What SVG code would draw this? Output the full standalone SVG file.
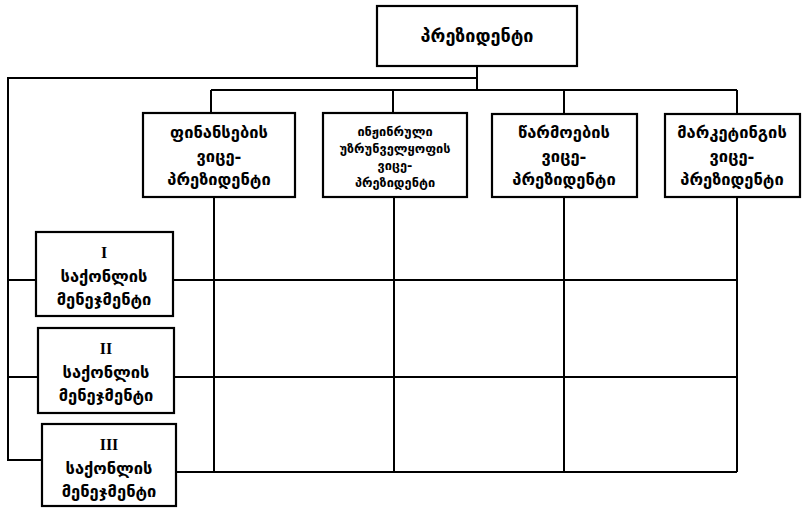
<svg xmlns="http://www.w3.org/2000/svg" width="808" height="508" viewBox="0 0 808 508">
<style>
.box{fill:#fff;stroke:#000;stroke-width:2.2}
.ln{fill:none;stroke:#000;stroke-width:2}
.t{font-family:"DejaVu Sans","Noto Sans",sans-serif;font-weight:bold;font-size:16.5px;fill:#000;text-anchor:middle}
.s{font-size:12.8px}
.p{font-size:18px}
.r{font-family:"Liberation Serif","DejaVu Serif",serif;font-weight:bold;font-size:16px}
</style>
<rect width="808" height="508" fill="#fff"/>
<g id="connectors">
<path class="ln" d="M477 66V90M211 90H737M211 90V113M393 90V113M564 90V114M737 90V114"/>
<path class="ln" d="M214 197V472M394 197V472M564 197V472M737 197V472"/>
<path class="ln" d="M477 78H8V460H42M8 280H36M8 377H38"/>
<path class="ln" d="M173 280H737M174 377H737M176 472H737"/>
</g>
<g id="president">
<rect class="box" x="377" y="6" width="200" height="60"/>
<text class="t p" x="477" y="42">პრეზიდენტი</text>
</g>
<g id="vp-finance">
<rect class="box" x="143" y="113" width="152" height="84"/>
<text class="t" x="219" y="138">ფინანსების</text>
<text class="t" x="219" y="162">ვიცე-</text>
<text class="t" x="219" y="185">პრეზიდენტი</text>
</g>
<g id="vp-engineering">
<rect class="box" x="323" y="113" width="144" height="84"/>
<text class="t s" x="395" y="136">ინჟინრული</text>
<text class="t s" x="395" y="153">უზრუნველყოფის</text>
<text class="t s" x="395" y="170">ვიცე-</text>
<text class="t s" x="395" y="187">პრეზიდენტი</text>
</g>
<g id="vp-production">
<rect class="box" x="492" y="114" width="145" height="83"/>
<text class="t" x="564" y="138">წარმოების</text>
<text class="t" x="564" y="162">ვიცე-</text>
<text class="t" x="564" y="185">პრეზიდენტი</text>
</g>
<g id="vp-marketing">
<rect class="box" x="665" y="114" width="135" height="83"/>
<text class="t" x="732" y="138">მარკეტინგის</text>
<text class="t" x="732" y="162">ვიცე-</text>
<text class="t" x="732" y="185">პრეზიდენტი</text>
</g>
<g id="product-1">
<rect class="box" x="36" y="232" width="137" height="84"/>
<text class="t r" x="104" y="258">I</text>
<text class="t" x="104" y="282">საქონლის</text>
<text class="t" x="104" y="305">მენეჯმენტი</text>
</g>
<g id="product-2">
<rect class="box" x="38" y="328" width="136" height="85"/>
<text class="t r" x="106" y="354">II</text>
<text class="t" x="106" y="378">საქონლის</text>
<text class="t" x="106" y="401">მენეჯმენტი</text>
</g>
<g id="product-3">
<rect class="box" x="42" y="424" width="134" height="82"/>
<text class="t r" x="109" y="450">III</text>
<text class="t" x="109" y="474">საქონლის</text>
<text class="t" x="109" y="497">მენეჯმენტი</text>
</g>
</svg>
